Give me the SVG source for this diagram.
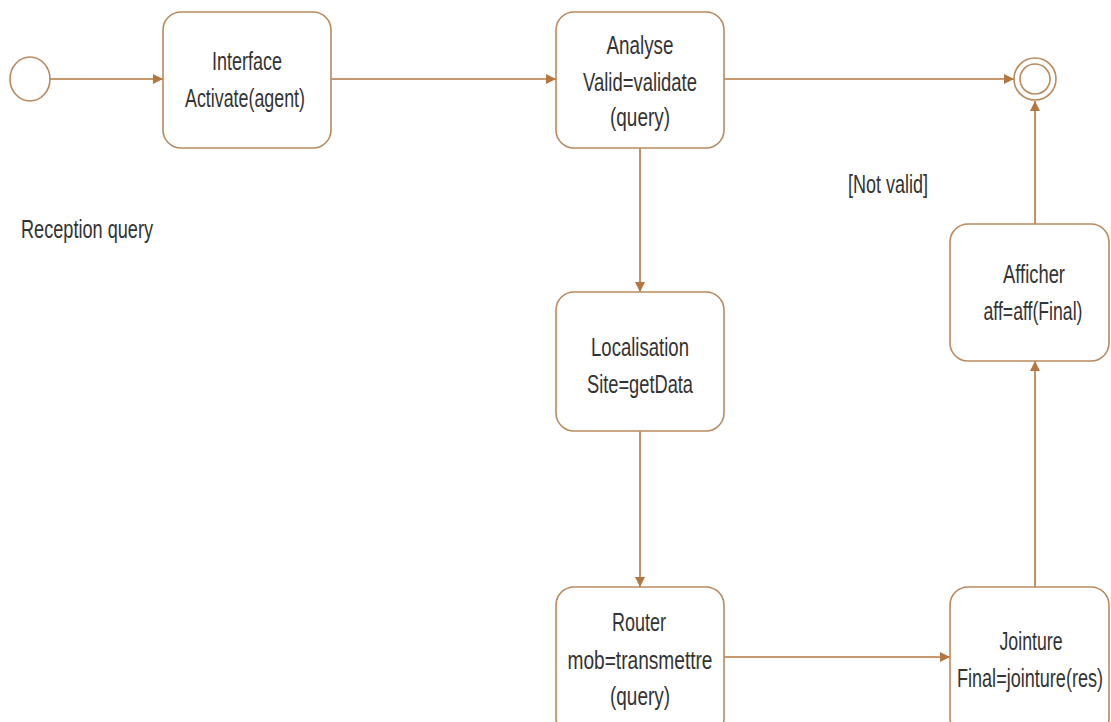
<svg xmlns="http://www.w3.org/2000/svg" width="1111" height="722" viewBox="0 0 1111 722">
  <style>
    .node { fill: #ffffff; stroke: #b98a5e; stroke-width: 1.6; }
    .edge { fill: none; stroke: #b5773f; stroke-width: 1.6; }
    text { font-family: "Liberation Sans", Arial, sans-serif; font-size: 26px; fill: #333333; text-anchor: middle; }
    .free { text-anchor: start; }
  </style>
  <defs>
    <marker id="arrow" viewBox="0 0 10 10" refX="10" refY="5" markerWidth="10" markerHeight="10" markerUnits="userSpaceOnUse" orient="auto">
      <path d="M0,0 L10,5 L0,10 z" fill="#b5773f"/>
    </marker>
  </defs>
  <rect width="1111" height="722" fill="#ffffff"/>

  <g id="connectors">
    <line class="edge" x1="50" y1="79" x2="163" y2="79" marker-end="url(#arrow)"/>
    <line class="edge" x1="331" y1="79" x2="556" y2="79" marker-end="url(#arrow)"/>
    <line class="edge" x1="724" y1="79" x2="1014" y2="79" marker-end="url(#arrow)"/>
    <line class="edge" x1="640" y1="148" x2="640" y2="292" marker-end="url(#arrow)"/>
    <line class="edge" x1="640" y1="431" x2="640" y2="587" marker-end="url(#arrow)"/>
    <line class="edge" x1="724" y1="657" x2="950" y2="657" marker-end="url(#arrow)"/>
    <line class="edge" x1="1035" y1="587" x2="1035" y2="361" marker-end="url(#arrow)"/>
    <line class="edge" x1="1035" y1="224" x2="1035" y2="101" marker-end="url(#arrow)"/>
  </g>

  <g id="start">
    <ellipse class="node" cx="30" cy="79" rx="20" ry="22"/>
  </g>

  <g id="end">
    <circle class="node" cx="1035" cy="79" r="21"/>
    <circle class="node" cx="1035" cy="79" r="15"/>
  </g>

  <g id="interface">
    <rect class="node" x="163" y="12" width="168" height="136" rx="18"/>
    <text x="247" y="70" textLength="70" lengthAdjust="spacingAndGlyphs">Interface</text>
    <text x="245" y="107" textLength="120" lengthAdjust="spacingAndGlyphs">Activate(agent)</text>
  </g>

  <g id="analyse">
    <rect class="node" x="556" y="12" width="168" height="136" rx="18"/>
    <text x="640" y="54" textLength="67" lengthAdjust="spacingAndGlyphs">Analyse</text>
    <text x="640" y="91" textLength="114" lengthAdjust="spacingAndGlyphs">Valid=validate</text>
    <text x="640" y="126" textLength="60" lengthAdjust="spacingAndGlyphs">(query)</text>
  </g>

  <g id="localisation">
    <rect class="node" x="556" y="292" width="168" height="139" rx="18"/>
    <text x="640" y="356" textLength="98" lengthAdjust="spacingAndGlyphs">Localisation</text>
    <text x="640" y="393" textLength="106" lengthAdjust="spacingAndGlyphs">Site=getData</text>
  </g>

  <g id="router">
    <rect class="node" x="556" y="587" width="168" height="150" rx="18"/>
    <text x="639" y="631" textLength="54" lengthAdjust="spacingAndGlyphs">Router</text>
    <text x="640" y="669" textLength="145" lengthAdjust="spacingAndGlyphs">mob=transmettre</text>
    <text x="640" y="705" textLength="60" lengthAdjust="spacingAndGlyphs">(query)</text>
  </g>

  <g id="jointure">
    <rect class="node" x="950" y="587" width="159" height="150" rx="18"/>
    <text x="1031" y="650" textLength="63" lengthAdjust="spacingAndGlyphs">Jointure</text>
    <text x="1030" y="687" textLength="146" lengthAdjust="spacingAndGlyphs">Final=jointure(res)</text>
  </g>

  <g id="afficher">
    <rect class="node" x="950" y="224" width="159" height="137" rx="18"/>
    <text x="1034" y="283" textLength="62" lengthAdjust="spacingAndGlyphs">Afficher</text>
    <text x="1033" y="320" textLength="99" lengthAdjust="spacingAndGlyphs">aff=aff(Final)</text>
  </g>

  <g id="labels">
    <text class="free" x="848" y="193" textLength="80" lengthAdjust="spacingAndGlyphs">[Not valid]</text>
    <text class="free" x="21" y="238" textLength="132" lengthAdjust="spacingAndGlyphs">Reception query</text>
  </g>
</svg>
